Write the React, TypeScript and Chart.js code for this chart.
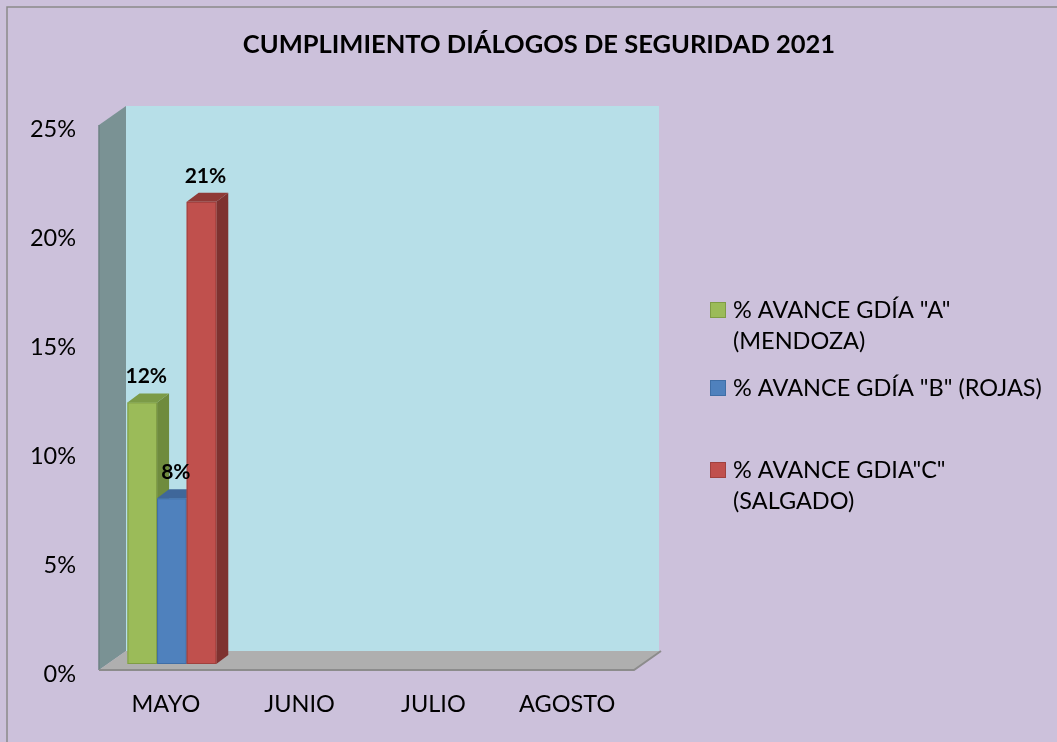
import React, { useEffect, useRef } from "react";
import { Chart, registerables } from "chart.js";

Chart.register(...registerables);

// ---------- data ----------
const chartTitle = "CUMPLIMIENTO DIÁLOGOS DE SEGURIDAD 2021";
const categories = ["MAYO", "JUNIO", "JULIO", "AGOSTO"];
const seriesNames = [
  '% AVANCE GDÍA "A" (MENDOZA)',
  '% AVANCE GDÍA "B" (ROJAS)',
  '% AVANCE GDIA"C" (SALGADO)',
];
const avanceA = [0.12, null, null, null];
const avanceB = [0.076, null, null, null];
const avanceC = [0.212, null, null, null];
const yTickValues = [0, 0.05, 0.1, 0.15, 0.2, 0.25];

// ---------- styles ----------
const FONT = "Lato, 'Open Sans', sans-serif";
const W = 1057;
const H = 742;
const BG = "#CCC1DB";
const BACK_WALL = "#B7DFE8";
const SIDE_WALL = "#7A9294";
const FLOOR = "#AFAFAF";
const palette = [
  { front: "#9BBB59", side: "#6F8B3E", top: "#7C9B47", border: "#7F9C45" },
  { front: "#4F81BD", side: "#3A5F8C", top: "#3F679A", border: "#3F6EA6" },
  { front: "#C0504D", side: "#7E3230", top: "#8F3A37", border: "#A0413E" },
];
const DEPTH_X = 27;
const DEPTH_Y = -19;
const BAR_DX = 12;
const BAR_DY = -9;
const BAR_SHIFT_X = 6;
const BAR_SHIFT_Y = -6;

const pct = (v: number) => Math.round(v * 100) + "%";

function wrapText(ctx: CanvasRenderingContext2D, text: string, maxW: number): string[] {
  const words = text.split(" ");
  const lines: string[] = [];
  let cur = "";
  for (const w of words) {
    const test = cur ? cur + " " + w : w;
    if (ctx.measureText(test).width > maxW && cur) {
      lines.push(cur);
      cur = w;
    } else {
      cur = test;
    }
  }
  if (cur) lines.push(cur);
  return lines;
}

const scenePlugin = {
  id: "scene3d",
  beforeDraw(chart: any) {
    const ctx = chart.ctx as CanvasRenderingContext2D;
    ctx.save();
    ctx.fillStyle = BG;
    ctx.fillRect(0, 0, W, H);
    // outer border (top/left visible)
    ctx.strokeStyle = "#8A8A8A";
    ctx.lineWidth = 1.5;
    ctx.beginPath();
    ctx.moveTo(7, H);
    ctx.lineTo(7, 7);
    ctx.lineTo(W, 7);
    ctx.stroke();
    // title
    ctx.fillStyle = "#000";
    ctx.font = `bold 25.5px ${FONT}`;
    ctx.textAlign = "center";
    ctx.textBaseline = "middle";
    ctx.fillText(chartTitle, 539, 45);
    ctx.restore();
  },
  beforeDatasetsDraw(chart: any) {
    const ctx = chart.ctx as CanvasRenderingContext2D;
    const { left: L, right: R, top: T, bottom: B } = chart.chartArea;
    ctx.save();
    // back wall
    ctx.fillStyle = BACK_WALL;
    ctx.fillRect(L + DEPTH_X, T + DEPTH_Y, R - L - 2, B - T);
    // side wall
    ctx.fillStyle = SIDE_WALL;
    ctx.beginPath();
    ctx.moveTo(L, T);
    ctx.lineTo(L + DEPTH_X, T + DEPTH_Y);
    ctx.lineTo(L + DEPTH_X, B + DEPTH_Y);
    ctx.lineTo(L, B);
    ctx.closePath();
    ctx.fill();
    ctx.strokeStyle = "#6E8284";
    ctx.lineWidth = 1.5;
    ctx.beginPath();
    ctx.moveTo(L, B);
    ctx.lineTo(L, T);
    ctx.stroke();
    // floor
    ctx.fillStyle = FLOOR;
    ctx.beginPath();
    ctx.moveTo(L, B);
    ctx.lineTo(L + DEPTH_X, B + DEPTH_Y);
    ctx.lineTo(R + DEPTH_X, B + DEPTH_Y);
    ctx.lineTo(R, B);
    ctx.closePath();
    ctx.fill();
    ctx.strokeStyle = "#8C8C8C";
    ctx.lineWidth = 2;
    ctx.beginPath();
    ctx.moveTo(L, B);
    ctx.lineTo(R, B);
    ctx.lineTo(R + DEPTH_X, B + DEPTH_Y);
    ctx.stroke();

    // bars
    chart.data.datasets.forEach((ds: any, i: number) => {
      const meta = chart.getDatasetMeta(i);
      const col = palette[i];
      meta.data.forEach((el: any, j: number) => {
        const v = ds.data[j];
        if (v == null) return;
        const p = el.getProps(["x", "y", "base", "width"], true);
        const l = p.x - p.width / 2 + BAR_SHIFT_X;
        const r = p.x + p.width / 2 + BAR_SHIFT_X;
        const t = p.y + BAR_SHIFT_Y;
        const b = p.base + BAR_SHIFT_Y;
        // side
        ctx.fillStyle = col.side;
        ctx.beginPath();
        ctx.moveTo(r, b);
        ctx.lineTo(r + BAR_DX, b + BAR_DY);
        ctx.lineTo(r + BAR_DX, t + BAR_DY);
        ctx.lineTo(r, t);
        ctx.closePath();
        ctx.fill();
        // top
        ctx.fillStyle = col.top;
        ctx.beginPath();
        ctx.moveTo(l, t);
        ctx.lineTo(l + BAR_DX, t + BAR_DY);
        ctx.lineTo(r + BAR_DX, t + BAR_DY);
        ctx.lineTo(r, t);
        ctx.closePath();
        ctx.fill();
        // front
        ctx.fillStyle = col.front;
        ctx.fillRect(l, t, r - l, b - t);
        ctx.strokeStyle = col.border;
        ctx.lineWidth = 1;
        ctx.strokeRect(l + 0.5, t + 0.5, r - l - 1, b - t - 1);
      });
    });
    // data labels
    chart.data.datasets.forEach((ds: any, i: number) => {
      const meta = chart.getDatasetMeta(i);
      meta.data.forEach((el: any, j: number) => {
        const v = ds.data[j];
        if (v == null) return;
        const p = el.getProps(["x", "y"], true);
        ctx.fillStyle = "#000";
        ctx.font = `bold 21px ${FONT}`;
        ctx.textAlign = "center";
        ctx.textBaseline = "middle";
        ctx.fillText(pct(v), p.x + BAR_SHIFT_X + 4, p.y + BAR_SHIFT_Y - 26);
      });
    });
    ctx.restore();
    return false;
  },
  afterDraw(chart: any) {
    const ctx = chart.ctx as CanvasRenderingContext2D;
    ctx.save();
    ctx.font = `23.5px ${FONT}`;
    ctx.textAlign = "left";
    ctx.textBaseline = "middle";
    const itemY = [310, 388, 470];
    const textX = 733;
    const lineH = 31;
    chart.data.datasets.forEach((ds: any, i: number) => {
      const col = palette[i];
      const y0 = itemY[i];
      ctx.fillStyle = col.front;
      ctx.fillRect(710, y0 - 8, 16, 16);
      ctx.strokeStyle = col.border;
      ctx.lineWidth = 1;
      ctx.strokeRect(710.5, y0 - 7.5, 15, 15);
      const lines = wrapText(ctx, ds.label, 320);
      ctx.fillStyle = "#000";
      lines.forEach((ln, k) => ctx.fillText(ln, textX, y0 + k * lineH));
    });
    ctx.restore();
  },
};

export default function App() {
  const ref = useRef<HTMLCanvasElement | null>(null);
  useEffect(() => {
    if (!ref.current) return;
    const seriesData = [avanceA, avanceB, avanceC];
    const chart = new Chart(ref.current, {
      type: "bar",
      data: {
        labels: categories,
        datasets: seriesData.map((d, i) => ({
          label: seriesNames[i],
          data: d,
          backgroundColor: palette[i].front,
          borderWidth: 0,
          barPercentage: 1,
          categoryPercentage: 0.664,
        })),
      },
      options: {
        responsive: false,
        devicePixelRatio: 1,
        animation: false,
        layout: { padding: { top: 125, right: 423, bottom: 0, left: 0 } },
        plugins: {
          legend: { display: false },
          title: { display: false },
          tooltip: { enabled: false },
        },
        scales: {
          x: {
            grid: { display: false, drawTicks: false },
            border: { display: false },
            ticks: { color: "#000", font: { family: FONT, size: 23.5 }, padding: 20 },
            afterFit: (s: any) => {
              s.height = 72;
            },
          },
          y: {
            min: 0,
            max: 0.25,
            grid: { display: false, drawTicks: false },
            border: { display: false },
            afterBuildTicks: (s: any) => {
              s.ticks = yTickValues.map((v) => ({ value: v }));
            },
            ticks: {
              color: "#000",
              font: { family: FONT, size: 23.5 },
              padding: 23,
              labelOffset: 4,
              callback: (v: any) => pct(Number(v)),
            },
            afterFit: (s: any) => {
              s.width = 99;
            },
          },
        },
      },
      plugins: [scenePlugin],
    });
    return () => chart.destroy();
  }, []);
  return (
    <div style={{ position: "absolute", left: 0, top: 0, width: W, height: H }}>
      <canvas ref={ref} width={W} height={H} style={{ display: "block" }} />
    </div>
  );
}
